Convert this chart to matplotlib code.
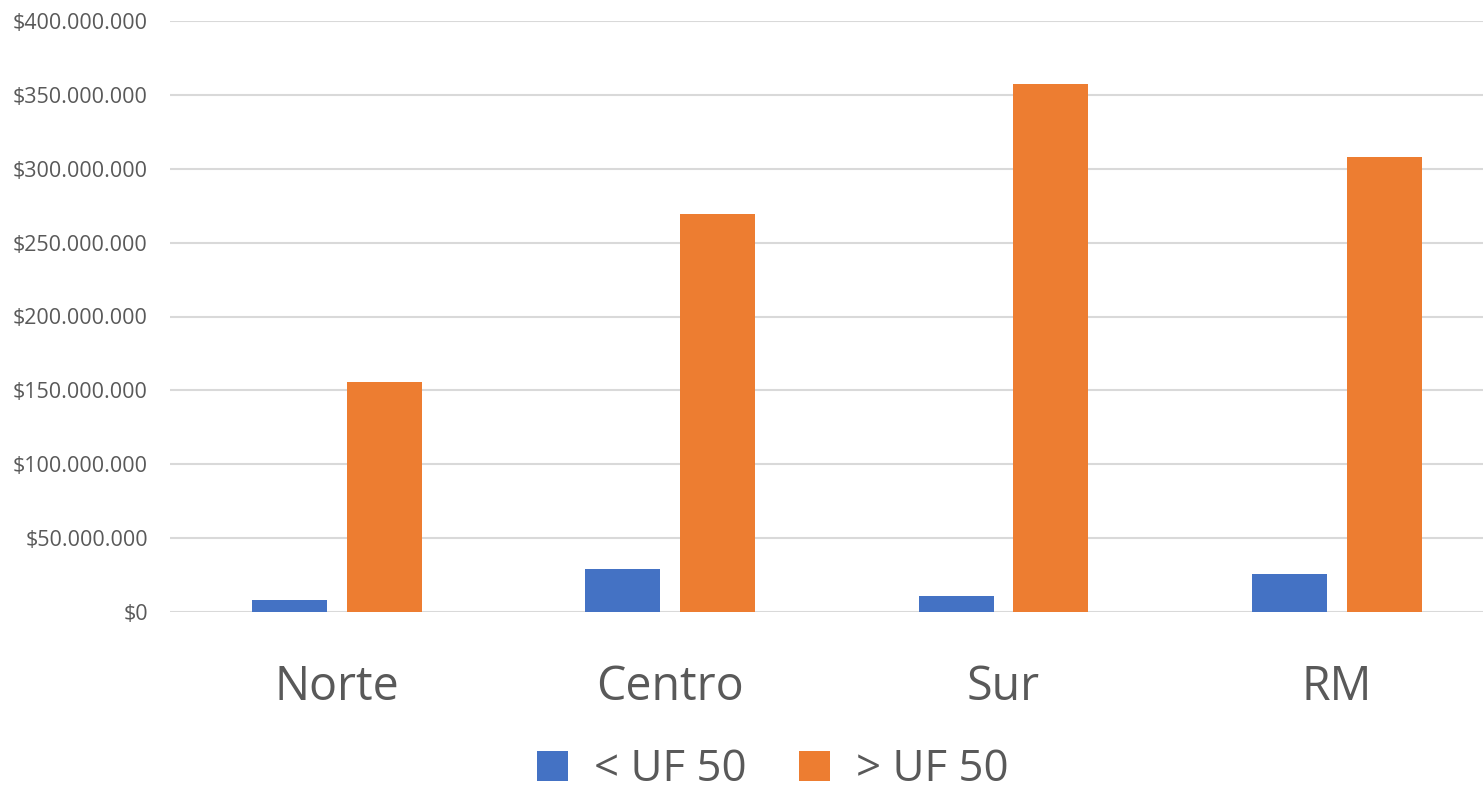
import numpy as np
import matplotlib.pyplot as plt
from matplotlib.ticker import FuncFormatter, MultipleLocator

# Datos
regiones = ['Norte', 'Centro', 'Sur', 'RM']
menor_uf50 = [8.1e6, 29.1e6, 10.8e6, 25.7e6]
mayor_uf50 = [155.7e6, 269.4e6, 357.4e6, 308.0e6]
series = ['< UF 50', '> UF 50']

azul = '#4472C4'
naranja = '#ED7D31'
gris_texto = '#595959'


def formato_pesos(v, pos):
    return '$' + f'{int(round(v)):,}'.replace(',', '.')


def main():
    plt.rcParams['font.family'] = ['Open Sans', 'DejaVu Sans']

    fig = plt.figure(figsize=(14.83, 7.88), dpi=100)
    # el área de trazado se sale un poco por la derecha, como en el original
    ax = fig.add_axes([170 / 1483, 1 - 612 / 788, 1333.5 / 1483, (612 - 21) / 788])

    x = np.arange(len(regiones))
    ancho = 0.225
    b1 = ax.bar(x - 0.142, menor_uf50, ancho, color=azul, label=series[0], zorder=3)
    b2 = ax.bar(x + 0.142, mayor_uf50, ancho, color=naranja, label=series[1], zorder=3)

    ax.set_xlim(-0.5, len(regiones) - 0.5)
    ax.set_ylim(0, 400e6)
    ax.yaxis.set_major_locator(MultipleLocator(50e6))
    ax.yaxis.set_major_formatter(FuncFormatter(formato_pesos))
    ax.grid(axis='y', color='#d9d9d9', linewidth=1.5, zorder=0)

    ax.set_xticks(x)
    ax.set_xticklabels(regiones, fontsize=33.5, color=gris_texto)
    ax.tick_params(axis='x', length=0, pad=37)
    ax.tick_params(axis='y', length=0, pad=16, labelsize=15.5, labelcolor=gris_texto)

    for s in ax.spines.values():
        s.set_visible(False)

    fig.legend(handles=[b1, b2], loc='center', bbox_to_anchor=(773 / 1483, 1 - 770 / 788),
               ncol=2, frameon=False, fontsize=31.5, labelcolor=gris_texto,
               handlelength=0.7, handleheight=0.7, handletextpad=0.6, columnspacing=1.2)

    fig.savefig('out.png', dpi=100)


if __name__ == "__main__":
    main()
